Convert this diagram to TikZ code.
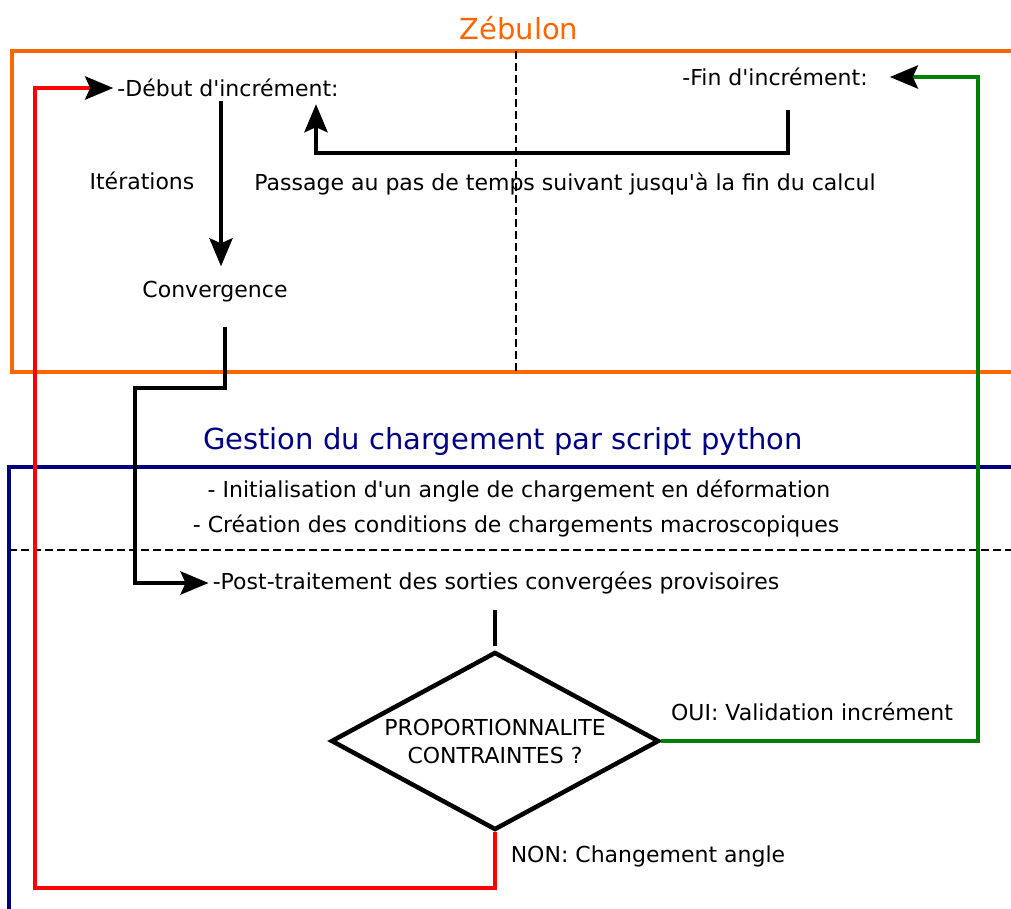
\documentclass[tikz,border=0pt]{standalone}
\usepackage{fontspec}
\setmainfont{DejaVu Sans}
\usetikzlibrary{arrows.meta,shapes.geometric}
\definecolor{zorange}{RGB}{255,102,0}
\definecolor{pyblue}{RGB}{0,0,128}
\definecolor{nonred}{RGB}{255,0,0}
\definecolor{ouigreen}{RGB}{0,128,0}
\newcommand{\apos}{\textquotesingle}
\tikzset{%
  lbl/.style={inner sep=4pt,font=\fontsize{22}{28}\selectfont},
  titre/.style={inner sep=4pt,font=\fontsize{29}{34}\selectfont},
  decision/.style={draw,diamond,line width=4.5pt,aspect=1.84,inner sep=0pt,
    minimum width=328pt,minimum height=178pt,align=center,
    font=\fontsize{22}{28}\selectfont},
  arrow/.style={-{Stealth[length=28pt,width=23pt,inset=5pt,color=black]}, line width=4.5pt},
  frame/.style={line width=4.5pt},
  sep/.style={line width=1.2pt,dash pattern=on 8pt off 4pt}%
}

\begin{document}
\begin{tikzpicture}[x=1pt,y=-1pt]
\clip (0,0) rectangle (1011,908);

% Frames (cut by the page on the right)
\draw[frame,zorange] (12,51) rectangle (1040,372);
\draw[frame,pyblue] (9,467) rectangle (1040,940);
\draw[sep] (516,51) -- (516,372);
\draw[sep] (9,550) -- (1040,550);

% Titles
\node[titre,text=zorange] (zeb) at (519,28) {Zébulon};
\node[titre,text=pyblue] (gest) at (503,441) {Gestion du chargement par script python};

% Zebulon part
\node[lbl] (debut) at (228,88) {-Début d\apos incrément:};
\node[lbl] (fin) at (775,77) {-Fin d\apos incrément:};
\node[lbl] (iter) at (142,181) {Itérations};
\node[lbl] (conv) at (215,292) {Convergence};
\node[lbl] (pass) at (565,184) {Passage au pas de temps suivant jusqu\apos à la fin du calcul};

% Python part
\node[lbl] (init) at (519,491) {- Initialisation d\apos un angle de chargement en déformation};
\node[lbl] (creat) at (516,526) {- Création des conditions de chargements macroscopiques};
\node[lbl] (post) at (496,583) {-Post-traitement des sorties convergées provisoires};
\node[decision] (dec) at (495,741) {PROPORTIONNALITE\\CONTRAINTES ?};
\node[lbl] (oui) at (812,712) {OUI: Validation incrément};
\node[lbl] (non) at (648,856) {NON: Changement angle};

% Corners of the connectors
\coordinate (redcorner) at (35,888);
\coordinate (elbow) at (135,388);
\coordinate (backl) at (316,153);
\coordinate (greencorner) at (978,741);

% Arrows
\draw[arrow] ([xshift=-7pt]debut.south) -- ([xshift=6pt,yshift=11pt]conv.north);
\draw[arrow] ([xshift=10pt,yshift=-20pt]conv.south) |- (elbow) |- (post.west);
\draw[arrow,shorten >=3pt] ([xshift=13pt,yshift=-20pt]fin.south) |- (backl) -- (backl |- debut.south);
\draw[line width=4.5pt,shorten <=12pt,shorten >=4pt] (dec.north |- post.south) -- (dec.north);
\draw[arrow,ouigreen,shorten >=18pt] (dec.east) -- (greencorner) |- (fin.east);
\draw[arrow,nonred] (dec.south) |- (redcorner) |- (debut.west);

\end{tikzpicture}
\end{document}
